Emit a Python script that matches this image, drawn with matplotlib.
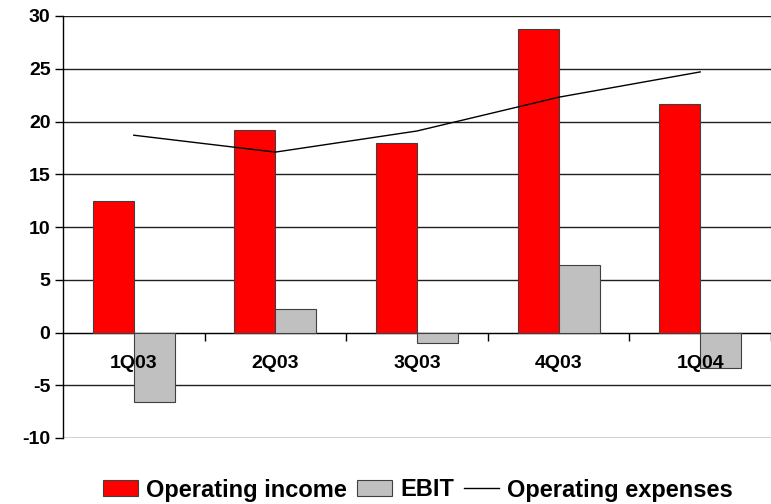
import matplotlib
matplotlib.use("Agg")
import matplotlib.pyplot as plt
import numpy as np
from matplotlib.patches import Patch
from matplotlib.lines import Line2D

quarters = ["1Q03", "2Q03", "3Q03", "4Q03", "1Q04"]
operating_income = [12.5, 19.2, 18.0, 28.8, 21.7]
ebit = [-6.6, 2.2, -1.0, 6.4, -3.4]
operating_expenses = [18.7, 17.1, 19.1, 22.3, 24.7]

plt.rcParams['font.family'] = ['Liberation Sans', 'DejaVu Sans']
plt.rcParams['font.weight'] = 'bold'
plt.rcParams['axes.unicode_minus'] = False

fig = plt.figure(figsize=(7.71, 5.04), dpi=100)
ax = fig.add_axes([63 / 771, 1 - 438 / 504, 708 / 771, 422 / 504])

x = np.arange(len(quarters))
w = 0.29
ax.bar(x - w / 2, operating_income, w, color="#ff0000", edgecolor="#404040", linewidth=0.8, zorder=3)
ax.bar(x + w / 2, ebit, w, color="#c0c0c0", edgecolor="#404040", linewidth=0.8, zorder=3)
ax.plot(x, operating_expenses, color="black", linewidth=1, zorder=4)

ax.set_ylim(-10, 30)
ax.set_xlim(-0.5, -0.5 + 708 / 142)
ax.set_yticks(range(-10, 31, 5))
ax.yaxis.grid(True, color="#202020", linewidth=1)
ax.set_axisbelow(True)
ax.tick_params(axis='y', length=6, width=1, labelsize=14, pad=3)

# category axis sits on the zero line
ax.spines['bottom'].set_position(('data', 0))
ax.spines['top'].set_visible(False)
ax.spines['right'].set_visible(False)
ax.spines['left'].set_linewidth(1)
ax.set_xticks(x + 0.5, minor=False)
ax.set_xticklabels([])
ax.tick_params(axis='x', length=6, width=1, direction='out')
for xi, q in zip(x, quarters):
    ax.text(xi, -2.9, q, ha='center', va='center', fontsize=14, fontweight='bold', zorder=5)

handles = [
    Patch(facecolor="#ff0000", edgecolor="#404040", linewidth=0.8),
    Patch(facecolor="#c0c0c0", edgecolor="#404040", linewidth=0.8),
    Line2D([], [], color="black", linewidth=1),
]
fig.legend(handles, ["Operating income", "EBIT", "Operating expenses"],
           loc='center', bbox_to_anchor=(418 / 771, 1 - 490 / 504), ncol=3,
           frameon=False, fontsize=17, handlelength=1.5, handleheight=0.65,
           handletextpad=0.35, columnspacing=0.4, borderpad=0)

fig.savefig("out.png", dpi=100)
